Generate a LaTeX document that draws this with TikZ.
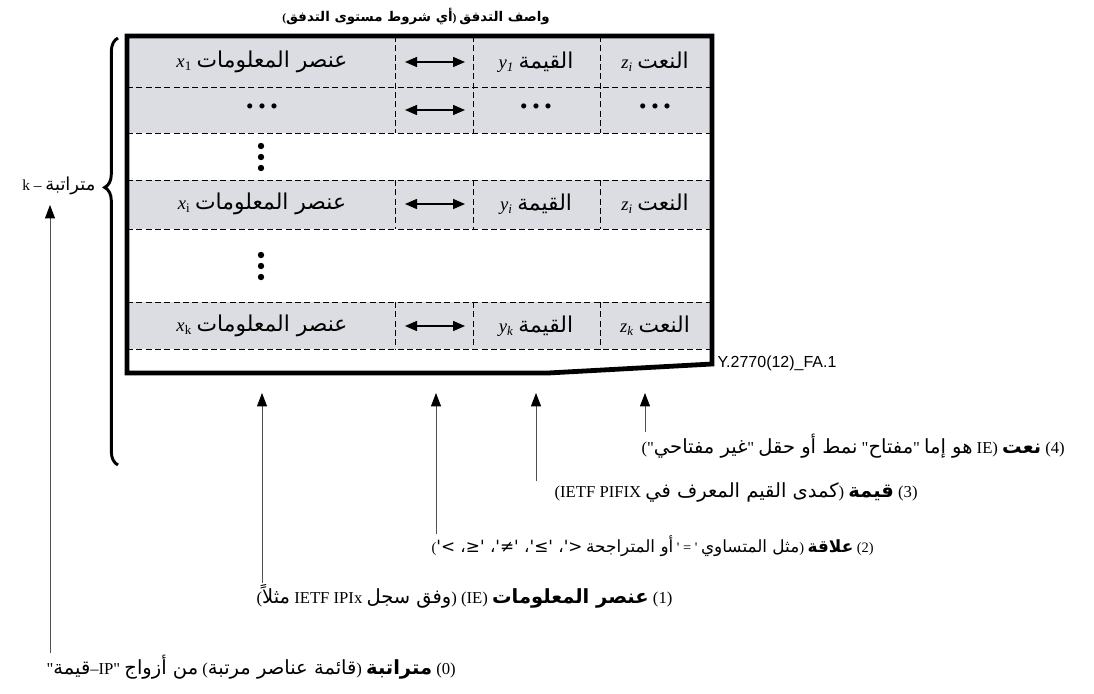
\documentclass[tikz,border=0pt]{standalone}
\usepackage{fontspec}
\setmainfont{Liberation Serif}[Ligatures=TeXOff]
\newfontfamily\arabicfont[Script=Arabic,Ligatures=TeXOff,Scale=1.17]{DejaVu Sans}
\newfontfamily\codefont{Liberation Sans}
\TeXXeTstate=1
\usetikzlibrary{arrows.meta}
\usetikzlibrary{calc}
\usetikzlibrary{decorations.pathreplacing}
\usetikzlibrary{positioning}

\definecolor{cellgray}{RGB}{220,221,226}
\definecolor{leadgray}{RGB}{80,80,80}

\newcommand{\arab}[1]{{\arabicfont\beginR #1\endR}}
\newcommand{\arabb}[1]{{\arabicfont\bfseries\beginR #1\endR}}
\newcommand{\threedots}{\textbullet\hspace{3.5pt}\textbullet\hspace{3.5pt}\textbullet}

\begin{document}
\begin{tikzpicture}[x=0.75pt,y=-0.75pt,
    every node/.style={font=\fontsize{12.5}{14}\selectfont,inner sep=1pt},
    cell/.style={anchor=center,font=\fontsize{14}{16}\selectfont},
    dots/.style={anchor=center,font=\fontsize{16}{16}\selectfont},
    lbl/.style={anchor=north west},
    rowline/.style={dash pattern=on 4.5pt off 2.5pt,line width=0.6pt},
    lead/.style={draw=leadgray,line width=0.6pt,-{Triangle[width=7.5pt,length=10pt,color=black]}},
    rel/.style={line width=1.1pt,{Triangle[width=7.5pt,length=9pt]}-{Triangle[width=7.5pt,length=9pt]}}]
  \useasboundingbox (0,0) rectangle (1094,693);

  % title
  \node[font=\fontsize{8.6}{10}\selectfont\bfseries] (title) at (416,16) {({\arabicfont\bfseries\beginR أي شروط مستوى التدفق\endR}) \arabb{واصف التدفق}};

  % rows of the descriptor
  \fill[cellgray] (127,36) rectangle (712,133);
  \fill[cellgray] (127,180) rectangle (712,229);
  \fill[cellgray] (127,302) rectangle (712,349);
  \foreach \y in {87,133,180,229,302,349}
    \draw[rowline] (127,\y) -- (712,\y);
  \foreach \x in {395,473,600} {
    \draw[rowline] (\x,36) -- (\x,133);
    \draw[rowline] (\x,180) -- (\x,229);
    \draw[rowline] (\x,302) -- (\x,349);
  }
  \draw[line width=3.6pt,line join=miter] (127,36) -- (712,36) -- (712,364) -- (548,373) -- (127,373) -- cycle;

  \node[cell] (ie1) at (262,62) {\textit{x}\textsubscript{1} \arab{عنصر المعلومات}};
  \node[cell] (val1) at (536,62) {\textit{y\textsubscript{1}} \arab{القيمة}};
  \node[cell] (att1) at (655,62) {\textit{z\textsubscript{i}} \arab{النعت}};

  \node[dots] (ie2) at (262,109) {\threedots};
  \node[dots] (val2) at (536,109) {\threedots};
  \node[dots] (att2) at (655,109) {\threedots};

  % vertical ellipses
  \foreach \y in {146,157,168,255,266,277}
    \fill (261,\y) circle (3.2);

  \node[cell] (iei) at (262,204) {\textit{x}\textsubscript{i} \arab{عنصر المعلومات}};
  \node[cell] (vali) at (536,204) {\textit{y\textsubscript{i}} \arab{القيمة}};
  \node[cell] (atti) at (655,204) {\textit{z\textsubscript{i}} \arab{النعت}};

  \node[cell] (iek) at (262,326) {\textit{x}\textsubscript{k} \arab{عنصر المعلومات}};
  \node[cell] (valk) at (536,326) {\textit{y\textsubscript{k}} \arab{القيمة}};
  \node[cell] (attk) at (655,326) {\textit{z\textsubscript{k}} \arab{النعت}};

  \foreach \n/\y in {a/62,b/110,c/204,d/326} {
    \coordinate (rel\n w) at (405,\y);
    \coordinate (rel\n e) at (465,\y);
    \draw[rel] (rel\n w) -- (rel\n e);
  }

  \node[anchor=west,font=\codefont\fontsize{12}{14}\selectfont] (code) at (716,363) {Y.2770(12)\_FA.1};

  % k-tuple brace
  \draw[line width=2.2pt,decorate,decoration={brace,amplitude=10pt,aspect=0.65}] (118,465) -- (118,38);
  \node[anchor=east,font=\fontsize{11.5}{13}\selectfont] (tuple) at (97,186) {k – \arab{متراتبة}};

  % annotations
  \coordinate (tip0) at (50,205);
  \coordinate (tip1) at (262,393);
  \coordinate (tip2) at (436,393);
  \coordinate (tip3) at (536,393);
  \coordinate (tip4) at (645,393);

  \node[lbl] (lab4) at (640,432) {("\arab{غير مفتاحي}" \arab{نمط أو حقل} "\arab{مفتاح}" \arab{هو إما} IE) \arabb{نعت} (4)};
  \node[lbl] (lab3) at (553,481) {(IETF PIFIX \arab{كمدى القيم المعرف في}) \arabb{قيمة} (3)};
  \node[lbl,font=\fontsize{10.8}{13}\selectfont] (lab2) at (430,534) {({\arabicfont\beginR <\kern0pt'\kern0pt، '\kern0pt≥\kern0pt'\kern0pt، '\kern0pt≠\kern0pt'\kern0pt، '\kern0pt≤\kern0pt، >\kern0pt'\endR} \arab{أو المتراجحة} ' = ' \arab{مثل المتساوي}) \arabb{علاقة} (2)};
  \node[lbl] (lab1) at (255,583) {(\arab{مثلاً} IETF IPIx \arab{وفق سجل}) (IE) \arabb{عنصر المعلومات} (1)};
  \node[lbl] (lab0) at (45,653) {"\arab{قيمة}–IP" \arab{من أزواج} (\arab{قائمة عناصر مرتبة}) \arabb{متراتبة} (0)};

  \draw[lead] (tip4 |- lab4.north) -- (tip4);
  \draw[lead] (tip3 |- lab3.north) -- (tip3);
  \draw[lead] (tip2 |- lab2.north) -- (tip2);
  \draw[lead] (tip1 |- lab1.north) -- (tip1);
  \draw[lead] (tip0 |- lab0.north) -- (tip0);
\end{tikzpicture}
\end{document}
